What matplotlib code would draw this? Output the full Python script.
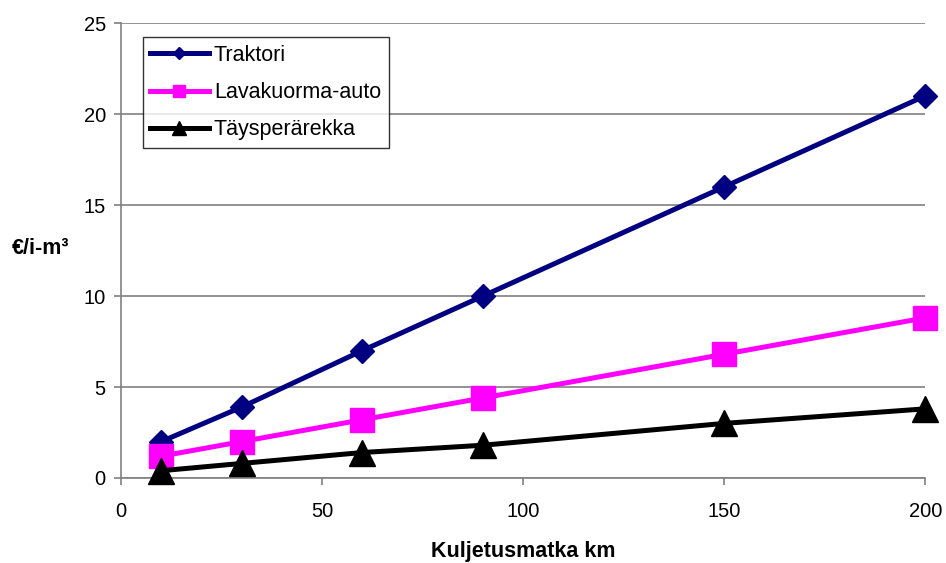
import matplotlib
matplotlib.use('Agg')
from matplotlib import pyplot as plt

plt.rcParams['font.family'] = ['Liberation Sans', 'DejaVu Sans']

# transport distance (km) and cost per loose m3 for each vehicle
distance = [10, 30, 60, 90, 150, 200]
traktori = [2.0, 3.9, 7.0, 10.0, 16.0, 21.0]
lavakuorma = [1.2, 2.0, 3.2, 4.4, 6.8, 8.8]
taysperarekka = [0.4, 0.8, 1.4, 1.8, 3.0, 3.8]

series = [
    ('Traktori', traktori, '#000080', 'D', 12.5),
    ('Lavakuorma-auto', lavakuorma, '#FF00FF', 's', 17),
    ('Täysperärekka', taysperarekka, '#000000', '^', 19),
]

fig = plt.figure(figsize=(9.46, 5.63), dpi=100)
ax = fig.add_axes([0.128, 0.151, 0.85, 0.808])

for name, vals, col, mk, ms in series:
    ax.plot(distance, vals, color=col, lw=3.6, marker=mk, markersize=ms,
            markerfacecolor=col, markeredgecolor=col, label=name, clip_on=False, zorder=3)

ax.set_xlim(0, 200)
ax.set_ylim(0, 25)
ax.set_xticks([0, 50, 100, 150, 200])
ax.set_yticks([0, 5, 10, 15, 20, 25])
ax.yaxis.grid(True, color='#808080', lw=1.2)
ax.set_axisbelow(True)
for s in ['top', 'right']:
    ax.spines[s].set_visible(False)
for s in ['left', 'bottom']:
    ax.spines[s].set_color('#808080')
    ax.spines[s].set_linewidth(1.2)
ax.tick_params(direction='out', length=5, width=1.2, color='#808080', labelsize=14.5, pad=6)
ax.tick_params(axis='x', pad=12)

ax.set_xlabel('Kuljetusmatka km', fontsize=15.5, fontweight='bold', labelpad=15)
fig.text(0.043, 0.558, '€/i-m³', fontsize=15.5, fontweight='bold', ha='center', va='center')

leg = ax.legend(loc='upper left', bbox_to_anchor=(0.151, 0.934), bbox_transform=fig.transFigure,
                fontsize=15.5, markerscale=0.5, frameon=True, fancybox=False, handlelength=2.7,
                borderpad=0.35, labelspacing=0.76, handletextpad=0.25, borderaxespad=0)
leg.get_frame().set_edgecolor('#000000')
leg.get_frame().set_linewidth(1.0)

fig.savefig('out.png', dpi=100)
